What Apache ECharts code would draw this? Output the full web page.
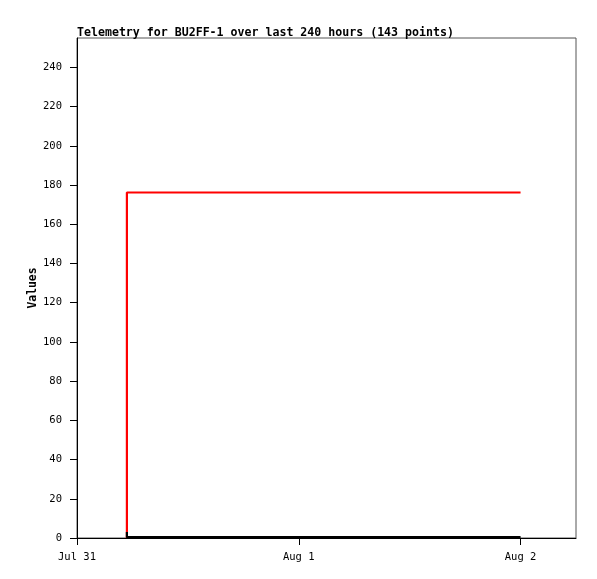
<!DOCTYPE html>
<html><head><meta charset="utf-8">
<script src="https://cdn.jsdelivr.net/npm/echarts@6/dist/echarts.min.js"></script>
<style>html,body{margin:0;padding:0;background:#fff}#c{width:597px;height:579px}</style>
</head><body><div id="c"></div>
<script>
// hours since Jul 31 00:00
const titleText = 'Telemetry for BU2FF-1 over last 240 hours (143 points)';
const xTickHours = [0, 24, 48];
const xTickLabels = ['Jul 31', 'Aug 1', 'Aug 2'];
const yTicks = [0,20,40,60,80,100,120,140,160,180,200,220,240];
const redHours = [5.4, 5.4, 48];
const redValues = [0, 176.2, 176.2];
const blackHours = [5.4, 5.4, 48];
const blackValues = [3, 0.4, 0.4];

const font = '"DejaVu Sans Mono", monospace';
const chart = echarts.init(document.getElementById('c'), null, {renderer:'canvas'});
chart.setOption({
  animation: false,
  backgroundColor: '#fff',
  title: {text: titleText, left: 72, top: 22,
    textStyle: {fontFamily: font, fontSize: 11.6, fontWeight: 'bold', color: '#000'}},
  grid: {left: 77, top: 38, right: 21, bottom: 41, show: true, borderColor: '#555', borderWidth: 1, backgroundColor: '#fff'},
  xAxis: {type: 'value', min: 0, max: 54,
    axisLine: {lineStyle: {color: '#000', width: 1}},
    axisTick: {show: true, length: 7, lineStyle: {color: '#000'}, customValues: xTickHours},
    axisLabel: {customValues: xTickHours, color: '#000', fontFamily: font, fontSize: 10.5, margin: 14,
      formatter: v => xTickLabels[xTickHours.indexOf(v)] || ''},
    splitLine: {show: false}},
  yAxis: {type: 'value', min: 0, max: 255,
    name: 'Values', nameLocation: 'middle', nameGap: 38, nameRotate: 90, nameMoveOverlap: false,
    nameTextStyle: {fontFamily: font, fontSize: 11.4, fontWeight: 'bold', color: '#000'},
    axisLine: {show: true, lineStyle: {color: '#000', width: 1}},
    axisTick: {show: true, length: 7, lineStyle: {color: '#000'}, customValues: yTicks},
    axisLabel: {customValues: yTicks, color: '#000', fontFamily: font, fontSize: 10.5, margin: 15},
    splitLine: {show: false}},
  series: [
    {type: 'line', data: redHours.map((h,i)=>[h, redValues[i]]), showSymbol: false,
      lineStyle: {color: '#ff0000', width: 2.2}, itemStyle: {color: '#ff0000'}},
    {type: 'line', data: blackHours.map((h,i)=>[h, blackValues[i]]), showSymbol: false,
      lineStyle: {color: '#000', width: 2.2}, itemStyle: {color: '#000'}}
  ]
});
</script></body></html>
